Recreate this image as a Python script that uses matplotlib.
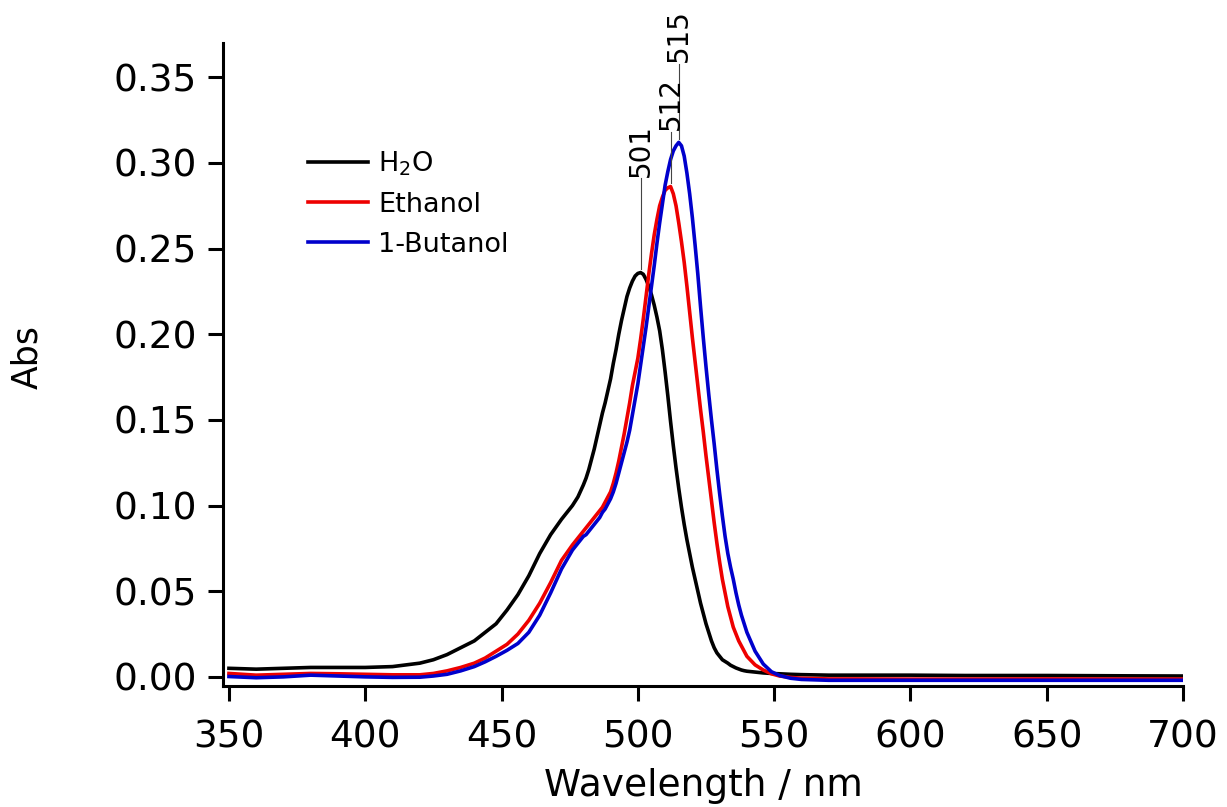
import matplotlib
matplotlib.use("Agg")
import matplotlib.pyplot as plt

# -------------------------
# Spectra
# -------------------------
wavelength = [350, 360, 370, 380, 390, 400, 410, 420, 425, 430,
              435, 440, 444, 448, 452, 456, 460, 464, 468, 472,
              476, 478, 480, 481, 482, 483, 484, 485, 486, 487,
              488, 489, 490, 491, 492, 493, 494, 495, 496, 497,
              498, 499, 500, 501, 502, 503, 504, 505, 506, 507,
              508, 509, 510, 511, 512, 513, 514, 515, 516, 517,
              518, 519, 520, 521, 522, 523, 524, 525, 526, 527,
              528, 529, 530, 531, 532, 533, 534, 535, 536, 537,
              538, 539, 540, 543, 546, 549, 552, 556, 560, 570,
              580, 600, 620, 650, 680, 700]

abs_h2o = [0.005, 0.0045, 0.005, 0.0055, 0.0055, 0.0055, 0.006, 0.008, 0.010, 0.013,
           0.017, 0.021, 0.026, 0.031, 0.039, 0.048, 0.059, 0.072, 0.083, 0.092,
           0.100, 0.105, 0.112, 0.116, 0.121, 0.127, 0.133, 0.140, 0.147, 0.154,
           0.160, 0.167, 0.174, 0.183, 0.191, 0.200, 0.208, 0.215, 0.222, 0.227,
           0.231, 0.234, 0.2355, 0.236, 0.235, 0.232, 0.228, 0.223, 0.217, 0.210,
           0.202, 0.191, 0.178, 0.164, 0.149, 0.135, 0.122, 0.110, 0.099, 0.089,
           0.080, 0.072, 0.064, 0.057, 0.050, 0.043, 0.037, 0.031, 0.026, 0.021,
           0.017, 0.014, 0.012, 0.010, 0.009, 0.008, 0.0068, 0.006, 0.0052, 0.0046,
           0.004, 0.0036, 0.0033, 0.0028, 0.0023, 0.002, 0.0018, 0.0015, 0.0013, 0.001,
           0.001, 0.001, 0.0008, 0.0008, 0.0006, 0.0005]

abs_ethanol = [0.002, 0.001, 0.0015, 0.002, 0.0018, 0.0015, 0.0012, 0.0012, 0.002, 0.0035,
               0.0055, 0.008, 0.011, 0.015, 0.019, 0.025, 0.033, 0.043, 0.055, 0.068,
               0.077, 0.081, 0.085, 0.087, 0.089, 0.091, 0.093, 0.095, 0.097, 0.099,
               0.102, 0.105, 0.108, 0.113, 0.119, 0.126, 0.134, 0.142, 0.151, 0.160,
               0.170, 0.178, 0.186, 0.197, 0.209, 0.222, 0.235, 0.247, 0.258, 0.267,
               0.275, 0.280, 0.284, 0.2855, 0.2862, 0.282, 0.275, 0.265, 0.254, 0.242,
               0.228, 0.213, 0.198, 0.184, 0.170, 0.156, 0.143, 0.129, 0.116, 0.103,
               0.090, 0.078, 0.067, 0.057, 0.049, 0.041, 0.035, 0.029, 0.025, 0.021,
               0.018, 0.015, 0.012, 0.007, 0.004, 0.0018, 0.0005, -0.0003, -0.0008, -0.0012,
               -0.0012, -0.0013, -0.0013, -0.0012, -0.0013, -0.0013]

abs_butanol = [0.0002, -0.0005, 0.0, 0.001, 0.0005, 0.0, -0.0003, -0.0002, 0.0005, 0.0015,
               0.0035, 0.006, 0.0088, 0.012, 0.0155, 0.0195, 0.026, 0.036, 0.049, 0.063,
               0.074, 0.078, 0.082, 0.083, 0.085, 0.087, 0.089, 0.091, 0.093, 0.096,
               0.098, 0.101, 0.104, 0.108, 0.113, 0.119, 0.125, 0.131, 0.137, 0.144,
               0.153, 0.162, 0.171, 0.182, 0.193, 0.204, 0.216, 0.228, 0.240, 0.253,
               0.265, 0.276, 0.287, 0.295, 0.302, 0.307, 0.310, 0.312, 0.310, 0.304,
               0.294, 0.282, 0.268, 0.252, 0.235, 0.216, 0.198, 0.181, 0.165, 0.150,
               0.136, 0.121, 0.107, 0.094, 0.082, 0.072, 0.064, 0.057, 0.049, 0.042,
               0.036, 0.031, 0.026, 0.015, 0.0075, 0.003, 0.0008, -0.0008, -0.0015, -0.002,
               -0.002, -0.002, -0.002, -0.002, -0.002, -0.002]

series_labels = ["H$_2$O", "Ethanol", "1-Butanol"]
series_colors = ["black", "#ee0000", "#0000cc"]

# peak maxima to annotate
peak_wl = [501, 512, 515]
peak_text = ["501", "512", "515"]

x_ticks = [350, 400, 450, 500, 550, 600, 650, 700]
y_ticks = [0.00, 0.05, 0.10, 0.15, 0.20, 0.25, 0.30, 0.35]

# -------------------------
# Figure
# -------------------------
plt.rcParams["font.family"] = ["DejaVu Sans"]
plt.rcParams["mathtext.fontset"] = "dejavusans"

fig = plt.figure(figsize=(12.27, 8.07), dpi=100)
ax = fig.add_axes([0.1817, 0.150, 0.7825, 0.7967])

all_abs = [abs_h2o, abs_ethanol, abs_butanol]
for ys, lab, col in zip(all_abs, series_labels, series_colors):
    ax.plot(wavelength, ys, color=col, lw=2.6, label=lab, solid_joinstyle="round")

# peak labels with thin leader lines
label_offsets = [0.055, 0.032, 0.046]
for ys, wl, txt, off in zip(all_abs, peak_wl, peak_text, label_offsets):
    ypk = ys[wavelength.index(wl)]
    ax.plot([wl, wl], [ypk + 0.002, ypk + off], color="#444444", lw=0.8)
    ax.text(wl, ypk + off + 0.001, txt, rotation=90, ha="center", va="bottom",
            fontsize=20)

ax.set_xlim(347.8, 700)
ax.set_ylim(-0.0053, 0.370)
ax.set_xticks(x_ticks)
ax.set_yticks(y_ticks)
ax.set_yticklabels([f"{v:.2f}" for v in y_ticks])

for side in ["top", "right"]:
    ax.spines[side].set_visible(False)
for side in ["left", "bottom"]:
    ax.spines[side].set_linewidth(2.2)

ax.tick_params(direction="out", length=11, width=2.2, labelsize=27, pad=8)
ax.tick_params(axis="x", pad=13)

ax.set_xlabel("Wavelength / nm", fontsize=27, labelpad=9)
ax.set_ylabel("Abs", fontsize=25)
ax.yaxis.set_label_coords(-0.186, 0.512)

ax.legend(frameon=False, fontsize=19.5, handlelength=2.25, handletextpad=0.35,
          labelspacing=0.52, borderpad=0, loc="upper left",
          bbox_to_anchor=(0.074, 0.856))

fig.savefig("out.png", dpi=100)
